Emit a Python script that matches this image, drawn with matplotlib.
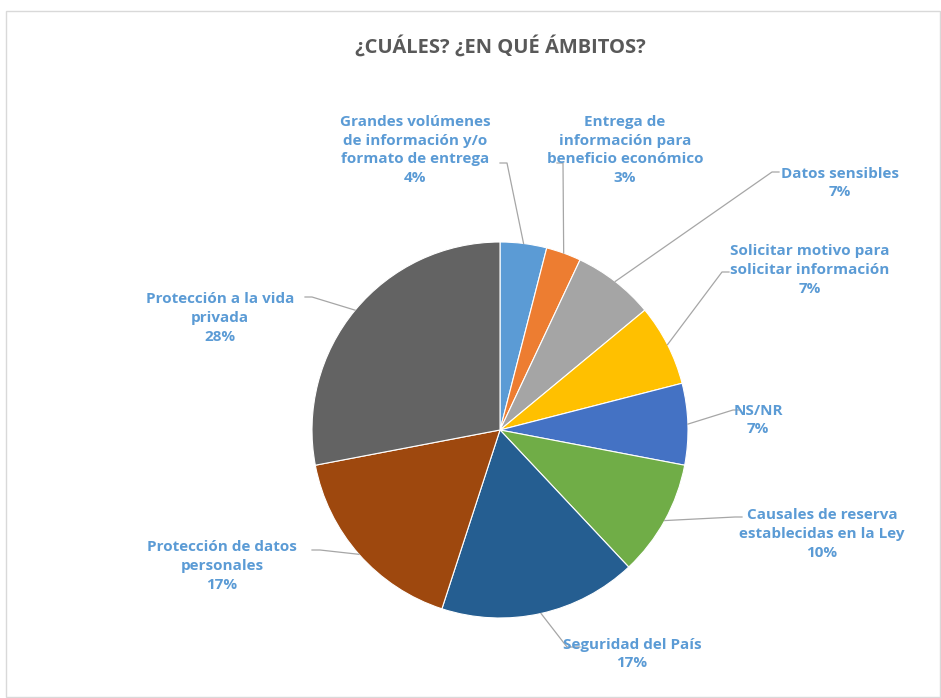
import matplotlib.pyplot as plt
import numpy as np
from matplotlib.patches import Rectangle

titulo = "¿CUÁLES? ¿EN QUÉ ÁMBITOS?"
categorias = [
    "Grandes volúmenes\nde información y/o\nformato de entrega",
    "Entrega de\ninformación para\nbeneficio económico",
    "Datos sensibles",
    "Solicitar motivo para\nsolicitar información",
    "NS/NR",
    "Causales de reserva\nestablecidas en la Ley",
    "Seguridad del País",
    "Protección de datos\npersonales",
    "Protección a la vida\nprivada",
]
porcentajes = [4, 3, 7, 7, 7, 10, 17, 17, 28]
colores = ["#5B9BD5", "#ED7D31", "#A5A5A5", "#FFC000", "#4472C4",
           "#70AD47", "#255E91", "#9E480E", "#636363"]

# posiciones de etiquetas (px, y hacia abajo) y punto de quiebre de la guía
pos_etiq = [(415, 150), (625, 150), (840, 183), (810, 270), (758, 420),
            (822, 534), (632, 654), (222, 566), (220, 318)]
quiebre = [((507, 163), (500, 163)), ((563, 163), (557, 163)),
           ((772, 172), (779, 172)), ((722, 272), (729, 272)),
           ((733, 410), (740, 410)), ((735, 517), (742, 517)),
           ((567, 647), (580, 647)), ((320, 550), (312, 550)),
           ((312, 297), (305, 297))]

W, H = 941, 698
fig = plt.figure(figsize=(W / 100, H / 100), dpi=100)
ax = fig.add_axes([0, 0, 1, 1])

cx, cy, r = 500, H - 430, 188
wedges, _ = ax.pie(porcentajes, colors=colores, startangle=90, counterclock=False,
                   center=(cx, cy), radius=r, frame=True,
                   wedgeprops=dict(edgecolor="white", linewidth=0.8))
ax.set_xlim(0, W)
ax.set_ylim(0, H)
ax.axis("off")

ax.add_patch(Rectangle((6, 1), W - 7, H - 12, fill=False, edgecolor="#D9D9D9", linewidth=1))

fig.text(500 / W, 1 - 47 / H, titulo, ha="center", va="center", fontsize=14.5,
         fontweight="bold", color="#595959", family="Open Sans")

for w, cat, p, (tx, ty), (q1, q2) in zip(wedges, categorias, porcentajes, pos_etiq, quiebre):
    ang = np.deg2rad((w.theta1 + w.theta2) / 2)
    ex, ey = cx + r * np.cos(ang), cy + r * np.sin(ang)
    ax.plot([ex, q1[0], q2[0]], [ey, H - q1[1], H - q2[1]], color="#A6A6A6", lw=0.9, zorder=1)
    ax.text(tx, H - ty, f"{cat}\n{p}%", ha="center", va="center", multialignment="center",
            fontsize=11, fontweight="bold", color="#5B9BD5", family="Open Sans",
            linespacing=1.42)

fig.savefig("out.png", dpi=100)
